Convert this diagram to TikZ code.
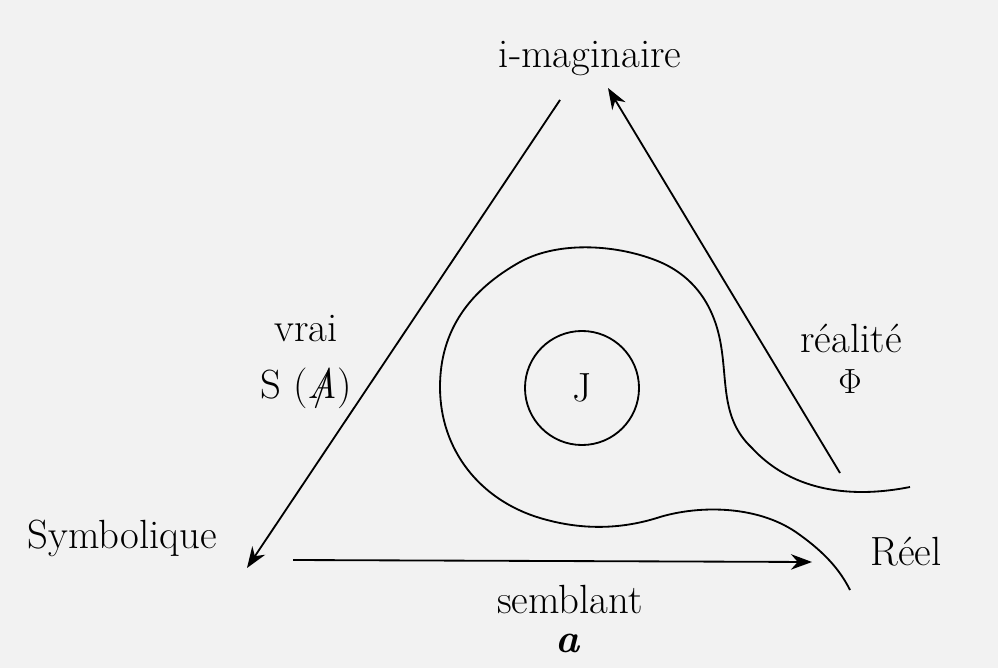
\documentclass[tikz,border=0pt]{standalone}
\usetikzlibrary{arrows.meta}
\newcommand{\barredA}{\ooalign{\itshape A\cr\hidewidth/\hidewidth\cr}}
\begin{document}
\begin{tikzpicture}[x=0.025cm, y=-0.025cm, >={Stealth[length=15pt,width=11pt]}, line width=1.3pt,
  lbl/.style={anchor=base, inner sep=0pt, font=\fontsize{29}{34}\selectfont}]
\fill[black!5] (0,0) rectangle (998,668);
\useasboundingbox (0,0) rectangle (998,668);
\node[lbl] (imag) at (590,68) {i-maginaire};
\node[lbl] (symb) at (122,548) {Symbolique};
\node[lbl] (reel) at (906,565) {Réel};
\node[lbl] (vrai) at (306,342) {vrai};
\node[lbl] (sbarA) at (306,398) {S (\barredA)};
\node[lbl] (realite) at (851,353) {réalité};
\node[lbl] (phi) at (850,393) {$\Phi$};
\node[lbl] (semblant) at (570,613) {semblant};
\node[lbl] (objA) at (568,652) {\textbf{\textit{a}}};
\node[draw, circle, minimum size=2.85cm, font=\fontsize{29}{34}\selectfont] (jouis) at (582,388) {J};

\coordinate (imagL) at (560,100);
\coordinate (imagR) at (608,88);
\coordinate (symbR) at (293,560);
\coordinate (symbT) at (247,568);
\coordinate (reelL) at (812,562);
\coordinate (reelT) at (840,473);

\draw[->] (imagL) -- (symbT);
\draw[->] (reelT) -- (imagR);
\draw[->] (symbR) -- (reelL);
\draw (910,487) .. controls (870,495) and (800,500) .. (752,448)
  .. controls (720,418) and (728,380) .. (720,340)
  .. controls (712,300) and (690,275) .. (660,262)
  .. controls (620,245) and (560,240) .. (520,262)
  .. controls (470,290) and (440,330) .. (440,387)
  .. controls (440,450) and (480,500) .. (540,518)
  .. controls (580,530) and (620,530) .. (660,517)
  .. controls (700,505) and (760,505) .. (800,535)
  .. controls (825,553) and (840,570) .. (850,590);
\end{tikzpicture}
\end{document}
